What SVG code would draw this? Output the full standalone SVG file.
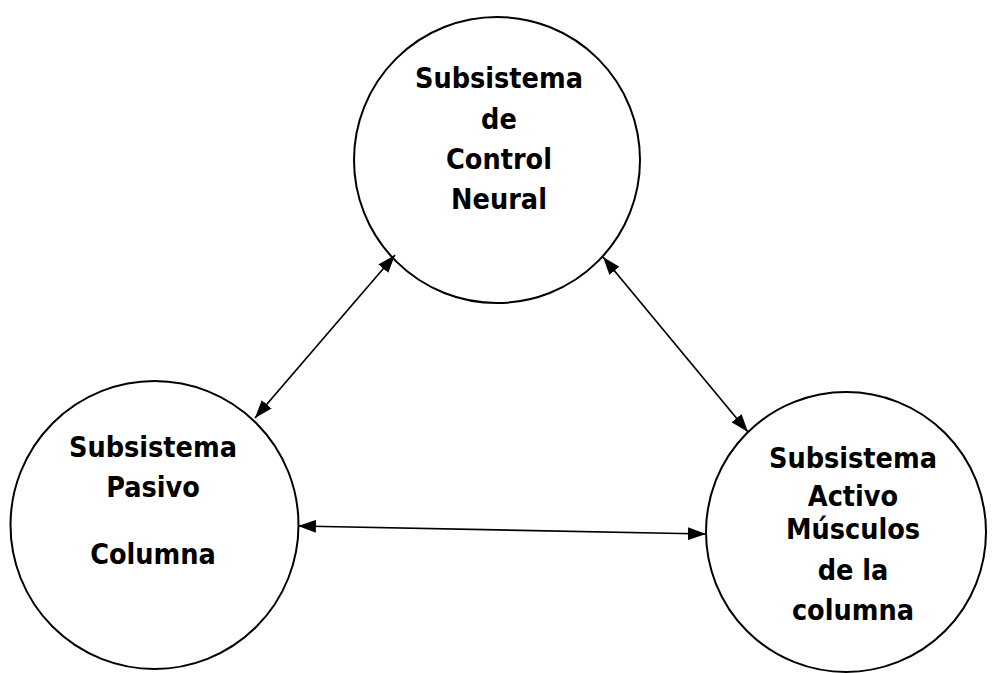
<svg xmlns="http://www.w3.org/2000/svg" width="992" height="673" viewBox="0 0 992 673">
<style>
.node{fill:#fff;stroke:#000;stroke-width:2}
.lbl{font-family:"DejaVu Sans Condensed","DejaVu Sans",Verdana,sans-serif;font-stretch:condensed;font-weight:bold;font-size:28.5px;fill:#000;text-anchor:middle}
.conn{stroke:#000;stroke-width:1.7;fill:none;marker-start:url(#ah);marker-end:url(#ah)}
</style>
<defs>
<marker id="ah" viewBox="0 0 18 13" refX="18" refY="6.5" markerWidth="18" markerHeight="13" markerUnits="userSpaceOnUse" orient="auto-start-reverse">
<path d="M0,0 L18,6.5 L0,13 Z" fill="#000"/>
</marker>
</defs>
<rect width="992" height="673" fill="#fff"/>
<g id="neural">
<circle class="node" cx="497" cy="160" r="143"/>
<text class="lbl" x="499" y="88">Subsistema</text>
<text class="lbl" x="499" y="129">de</text>
<text class="lbl" x="499" y="169">Control</text>
<text class="lbl" x="499" y="209">Neural</text>
</g>
<g id="pasivo">
<circle class="node" cx="154.5" cy="525" r="144"/>
<text class="lbl" x="153" y="457">Subsistema</text>
<text class="lbl" x="153" y="497">Pasivo</text>
<text class="lbl" x="153" y="564">Columna</text>
</g>
<g id="activo">
<circle class="node" cx="846" cy="532" r="140"/>
<text class="lbl" x="853" y="468">Subsistema</text>
<text class="lbl" x="853" y="506">Activo</text>
<text class="lbl" x="853" y="539">Músculos</text>
<text class="lbl" x="853" y="580">de la</text>
<text class="lbl" x="853" y="620">columna</text>
</g>
<g id="connectors">
<line class="conn" x1="255" y1="418" x2="395" y2="255"/>
<line class="conn" x1="603" y1="257" x2="748" y2="432"/>
<line class="conn" x1="298" y1="526" x2="706" y2="534"/>
</g>
</svg>
